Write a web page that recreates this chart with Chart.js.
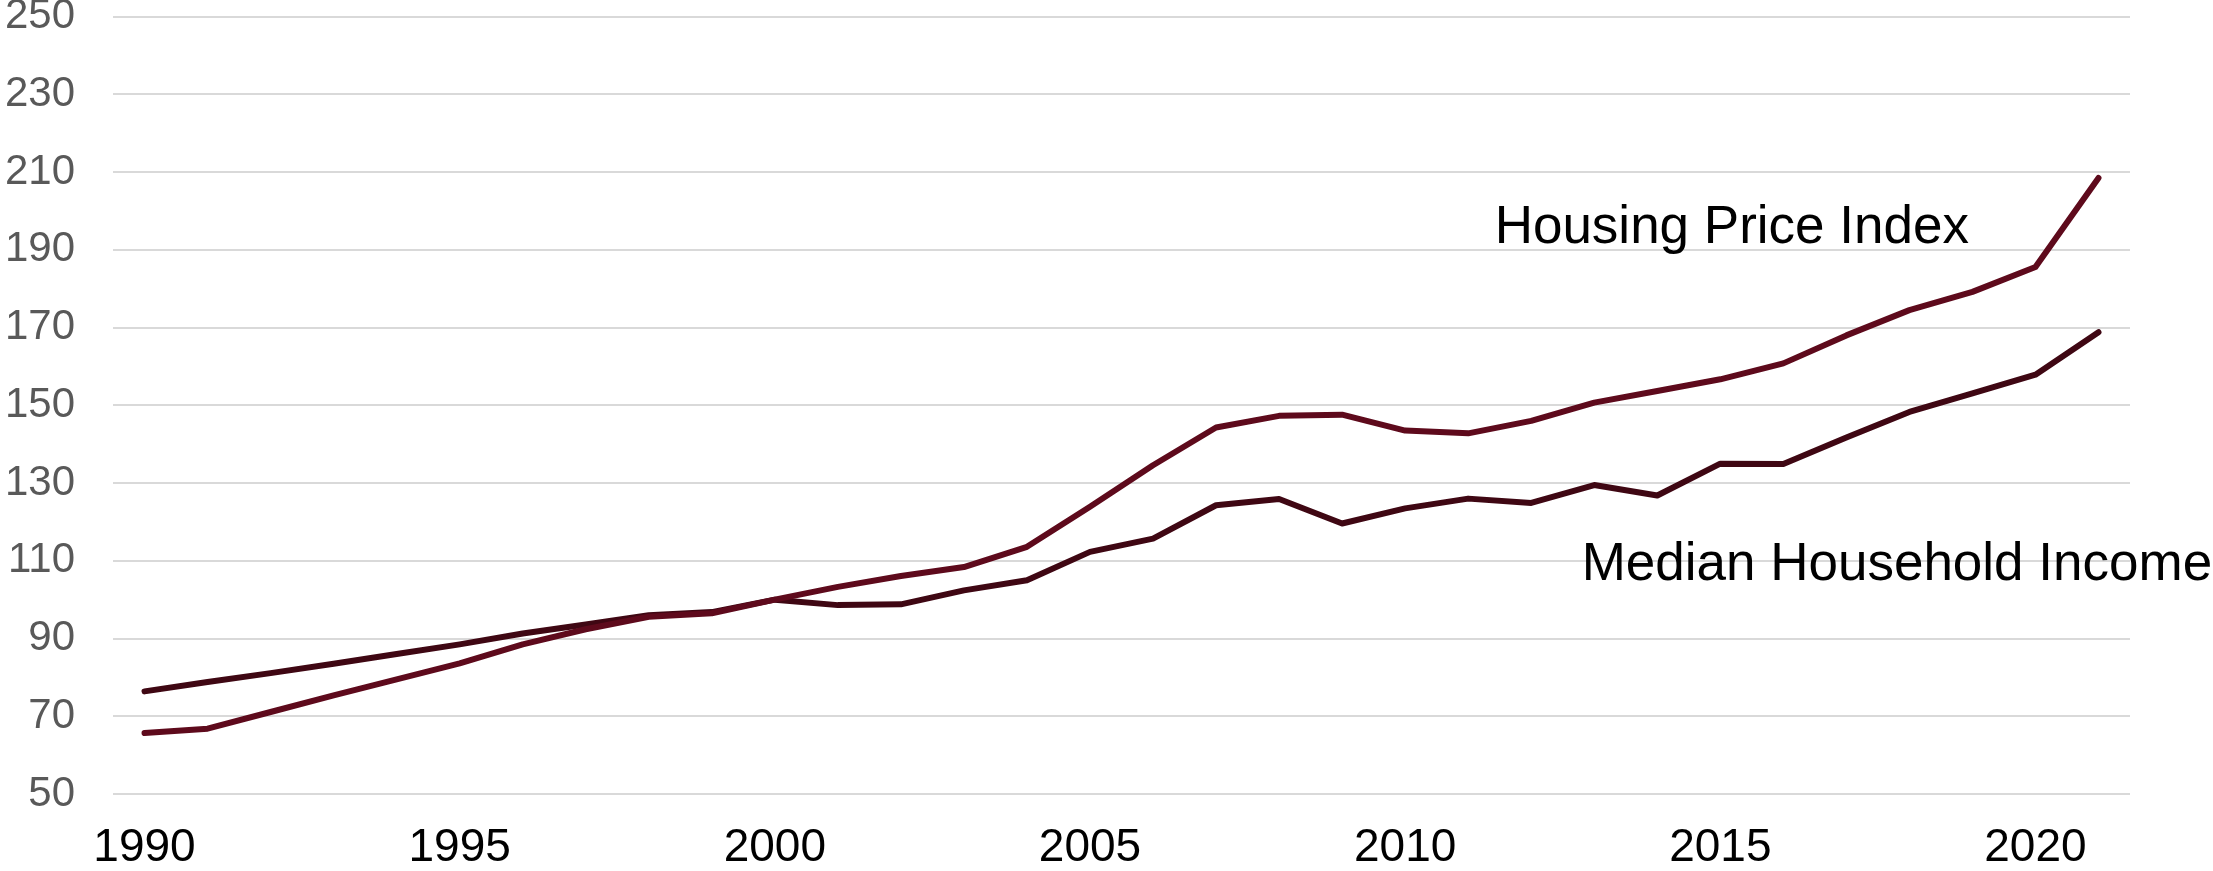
<!DOCTYPE html>
<html>
<head>
<meta charset="utf-8">
<script src="https://cdn.jsdelivr.net/npm/chart.js@4/dist/chart.umd.min.js"></script>
<style>
  html, body { margin: 0; padding: 0; background: #ffffff; }
  #wrap { width: 2213px; height: 871px; position: relative; }
</style>
</head>
<body>
<div id="wrap"><canvas id="c"></canvas></div>
<script>
const years = ['1990','1991','1992','1993','1994','1995','1996','1997','1998','1999',
               '2000','2001','2002','2003','2004','2005','2006','2007','2008','2009',
               '2010','2011','2012','2013','2014','2015','2016','2017','2018','2019',
               '2020','2021'];
const housingPriceIndex = [65.7, 66.8, 71.1, 75.4, 79.5, 83.6, 88.5, 92.4, 95.6, 96.5,
                           100.0, 103.3, 106.1, 108.4, 113.6, 123.9, 134.6, 144.3, 147.3, 147.6,
                           143.5, 142.8, 146.0, 150.7, 153.7, 156.7, 160.8, 168.0, 174.5, 179.2,
                           185.6, 208.5];
const medianHouseholdIncome = [76.4, 78.8, 81.1, 83.5, 86.0, 88.5, 91.3, 93.6, 96.0, 96.8,
                               100.0, 98.6, 98.8, 102.4, 105.0, 112.3, 115.7, 124.3, 125.9, 119.6,
                               123.5, 126.0, 124.9, 129.5, 126.8, 135.0, 134.9, 141.7, 148.3, 153.1,
                               157.9, 168.8];
const xTickLabels = ['1990','1995','2000','2005','2010','2015','2020'];
const yTicks = [50, 70, 90, 110, 130, 150, 170, 190, 210, 230, 250];
const seriesNames = ['Housing Price Index', 'Median Household Income'];
// annotation anchors in data units: [category index, value]
const annotationAnchors = [[21.42, 191.9], [22.80, 105.0]];

const FONT = '"Liberation Sans", Arial, Helvetica, sans-serif';

const annotationPlugin = {
  id: 'seriesLabels',
  afterDatasetsDraw(chart) {
    const ctx = chart.ctx;
    const xs = chart.scales.x, ys = chart.scales.y;
    ctx.save();
    ctx.font = '53px ' + FONT;
    ctx.fillStyle = '#000000';
    ctx.textAlign = 'left';
    ctx.textBaseline = 'alphabetic';
    seriesNames.forEach((name, i) => {
      const a = annotationAnchors[i];
      ctx.fillText(name, xs.getPixelForValue(a[0]), ys.getPixelForValue(a[1]));
    });
    ctx.restore();
  }
};

new Chart(document.getElementById('c'), {
  type: 'line',
  data: {
    labels: years,
    datasets: [
      {
        label: seriesNames[0],
        data: housingPriceIndex,
        borderColor: '#5e0a1c',
        borderWidth: 6,
        pointRadius: 0,
        tension: 0,
        borderCapStyle: 'round',
        borderJoinStyle: 'round',
        fill: false
      },
      {
        label: seriesNames[1],
        data: medianHouseholdIncome,
        borderColor: '#3f0713',
        borderWidth: 6,
        pointRadius: 0,
        tension: 0,
        borderCapStyle: 'round',
        borderJoinStyle: 'round',
        fill: false
      }
    ]
  },
  options: {
    responsive: true,
    maintainAspectRatio: false,
    animation: false,
    events: [],
    layout: { padding: { left: 0, right: 83, top: 0, bottom: 0 } },
    plugins: {
      legend: { display: false },
      tooltip: { enabled: false },
      title: { display: false }
    },
    scales: {
      x: {
        type: 'category',
        offset: true,
        grid: { display: false, drawTicks: false },
        border: { display: false },
        ticks: {
          autoSkip: false,
          maxRotation: 0,
          minRotation: 0,
          padding: 31,
          color: '#000000',
          font: { family: FONT, size: 46, lineHeight: 1 },
          callback: function(value) {
            const lab = this.getLabelForValue(value);
            return xTickLabels.includes(lab) ? lab : '';
          }
        },
        afterFit: (axis) => { axis.height = 77; }
      },
      y: {
        min: 50,
        max: 250,
        afterBuildTicks: (axis) => { axis.ticks = yTicks.map(v => ({ value: v })); },
        grid: { color: '#d9d9d9', lineWidth: 2, drawTicks: true, tickLength: 38, tickColor: 'rgba(0,0,0,0)' },
        border: { display: false },
        ticks: {
          padding: 0,
          color: '#595959',
          font: { family: FONT, size: 42, lineHeight: 0.795 }
        },
        afterFit: (axis) => { axis.width = 113; }
      }
    }
  },
  plugins: [annotationPlugin]
});
</script>
</body>
</html>
